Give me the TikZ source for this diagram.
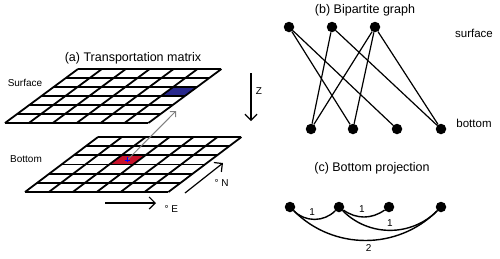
\documentclass[tikz,border=0pt]{standalone}
\usepackage{fontspec}
\setmainfont{Liberation Sans}
\usetikzlibrary{arrows.meta}
\definecolor{cellblue}{RGB}{40,40,140}
\definecolor{cellred}{RGB}{200,20,45}

\begin{document}
\begin{tikzpicture}[x=1pt, y=-1pt,
  dot/.style={circle, fill=black, inner sep=0pt, minimum size=10.5pt},
  title/.style={font=\fontsize{12.5}{15}\selectfont},
  side/.style={font=\fontsize{11.5}{14}\selectfont},
  small/.style={font=\fontsize{10}{12}\selectfont},
  gridline/.style={line width=1.8pt},
  edge/.style={line width=1.2pt},
  arc/.style={line width=1.4pt},
  axis/.style={line width=1.2pt, -{Straight Barb[length=6pt,width=12pt]}}]

\useasboundingbox (0,0) rectangle (500,258);

% Titles and labels
\node (ta) [title] at (133,58) {(a) Transportation matrix};
\node (tb) [title] at (365,10) {(b) Bipartite graph};
\node (tc) [title] at (372,168) {(c) Bottom projection};
\node (lsurf) [small] at (25,83) {Surface};
\node (lbot) [small] at (26,159) {Bottom};

% Surface grid
\begin{scope}[shift={(78,69)}, x={(23.9pt,0pt)}, y={(-12.17pt,-9pt)}]
  \fill[cellblue] (5,2) -- (6,2) -- (6,3) -- (5,3) -- cycle;
  \foreach \i in {0,...,6} {
    \draw[gridline] (\i,0) -- (\i,6);
    \draw[gridline] (0,\i) -- (6,\i);
  }
\end{scope}

% Bottom grid
\begin{scope}[shift={(98,137)}, x={(23.9pt,0pt)}, y={(-12.17pt,-9.17pt)}]
  \fill[cellred] (2,2) -- (3,2) -- (3,3) -- (2,3) -- cycle;
  \foreach \i in {0,...,6} {
    \draw[gridline] (\i,0) -- (\i,6);
    \draw[gridline] (0,\i) -- (6,\i);
  }
  \coordinate (src) at (2.5,2.5);
\end{scope}

% Transport arrow
\coordinate (dst) at (176,111);
\draw[gray, line width=1pt, -{Straight Barb[length=4pt,width=8pt]}] (src) -- (dst);
\draw[blue, line width=0.7pt] (src) ++(-2.5,0) -- ++(5,0) (src) ++(0,-2.5) -- ++(0,5);

% Directions
\coordinate (e0) at (105,203);
\coordinate (e1) at (156,203);
\coordinate (n0) at (185,193);
\coordinate (n1) at (223,163);
\coordinate (z0) at (251,73);
\coordinate (z1) at (251,121);
\draw[axis] (e0) -- (e1);
\draw[axis] (n0) -- (n1);
\draw[axis] (z0) -- (z1);
\node (le) [small, right] at (161,209) {° E};
\node (ln) [small, right] at (211,183) {° N};
\node (lz) [small] at (259,91) {Z};

% Bipartite graph
\node (s1) [dot] at (289,27) {};
\node (s2) [dot] at (332,27) {};
\node (s3) [dot] at (375,27) {};
\node (b1) [dot] at (311,129) {};
\node (b2) [dot] at (353,129) {};
\node (b3) [dot] at (397,129) {};
\node (b4) [dot] at (441,129) {};
\node (lsurface) [side] at (474,33) {surface};
\node (lbottom) [side] at (474,123) {bottom};

\draw [edge] (s1) -- (b2);
\draw [edge] (s1) -- (b3);
\draw [edge] (s2) -- (b1);
\draw [edge] (s2) -- (b4);
\draw [edge] (s3) -- (b1);
\draw [edge] (s3) -- (b2);
\draw [edge] (s3) -- (b4);

% Bottom projection
\node (p1) [dot] at (290,207) {};
\node (p2) [dot] at (339,207) {};
\node (p3) [dot] at (389,207) {};
\node (p4) [dot] at (441,207) {};

\draw [arc] (p1) to[out=-45, in=-135] node[small, above, pos=0.45] {1} (p2);
\draw [arc] (p2) to[out=-35, in=-145] node[small, above, pos=0.45] {1} (p3);
\draw [arc] (p2) to[out=-45, in=-135] node[small, above, pos=0.5] {1} (p4);
\draw [arc] (p1) to[out=-45, in=-135] node[small, below, pos=0.52] {2} (p4);

\end{tikzpicture}
\end{document}
